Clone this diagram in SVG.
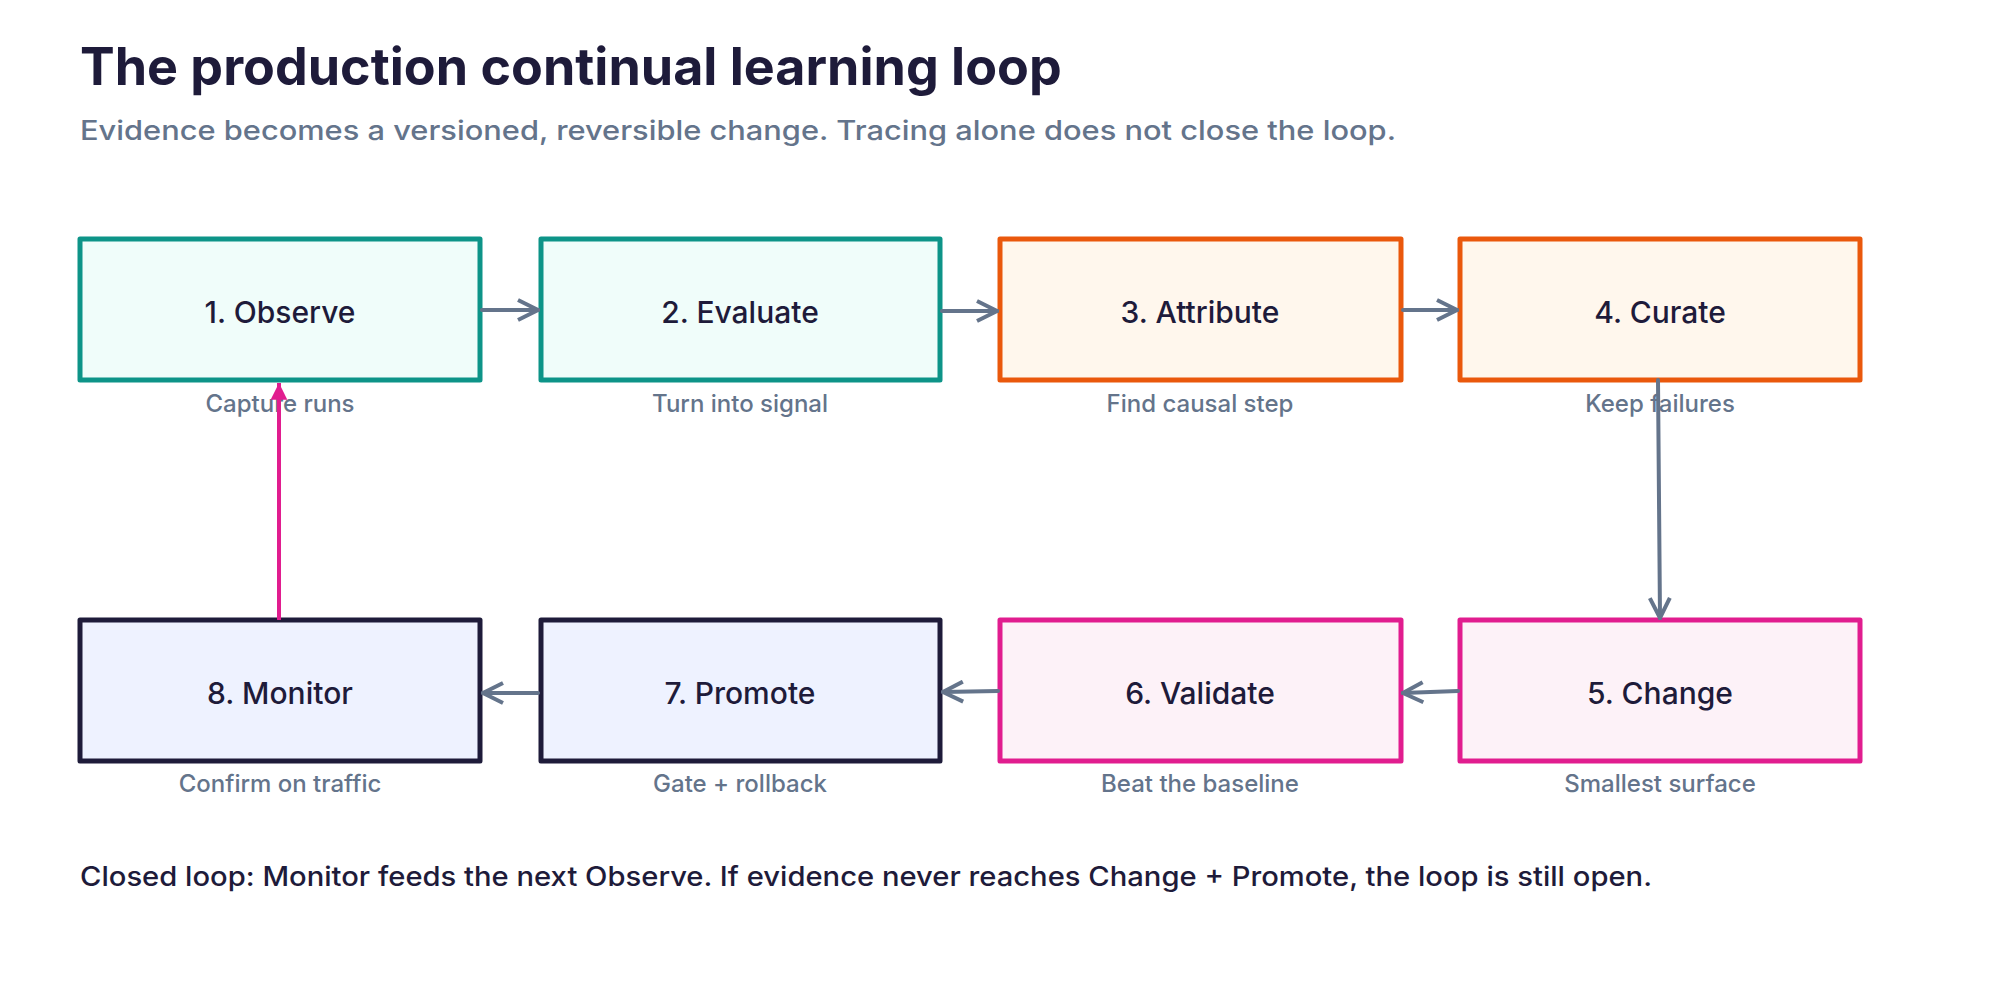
<svg xmlns="http://www.w3.org/2000/svg" width="2000" height="1000" viewBox="0 0 2000 1000">
<style>
text{font-family:Inter,"Liberation Sans",sans-serif}
.t{font-size:52px;font-weight:700;fill:#1e1b3a}
.s{font-size:27px;fill:#64748b;font-weight:500}
.l{font-size:30px;fill:#1e1b3a;text-anchor:middle;font-weight:500}
.sl{font-size:24px;fill:#64748b;text-anchor:middle;font-weight:500}
.f{font-size:27px;fill:#1e1b3a;font-weight:500}
.box{stroke-width:5;stroke-linejoin:round}
.teal{stroke:#0d9488;fill:#f0fdfa}.org{stroke:#ea580c;fill:#fff7ed}.pink{stroke:#e11d8f;fill:#fdf2f8}.navy{stroke:#1e1b3a;fill:#eef2ff}
.c{fill:none;stroke:#64748b;stroke-width:4;stroke-linecap:round}
</style>
<defs>
<marker id="ag" viewBox="0 0 12 12" refX="11" refY="6" markerWidth="6" markerHeight="6" orient="auto" markerUnits="strokeWidth"><path d="M1,1 L11,6 L1,11" fill="none" stroke="#64748b" stroke-width="2"/></marker>
<marker id="ap" viewBox="0 0 12 12" refX="11" refY="6" markerWidth="5" markerHeight="5" orient="auto" markerUnits="strokeWidth"><path d="M1,1 L11,6 L1,11 Z" fill="#e11d8f"/></marker>
</defs>
<text class="t" x="80" y="85">The production continual learning loop</text>
<text class="s" x="80" y="140" textLength="1316" lengthAdjust="spacingAndGlyphs">Evidence becomes a versioned, reversible change. Tracing alone does not close the loop.</text>
<g id="n1"><rect class="box teal" x="80" y="239" width="400" height="141"/><text class="l" x="280" y="323">1. Observe</text><text class="sl" x="280" y="412">Capture runs</text></g>
<g id="n2"><rect class="box teal" x="541" y="239" width="399" height="141"/><text class="l" x="740" y="323">2. Evaluate</text><text class="sl" x="740" y="412">Turn into signal</text></g>
<g id="n3"><rect class="box org" x="1000" y="239" width="401" height="141"/><text class="l" x="1200" y="323">3. Attribute</text><text class="sl" x="1200" y="412">Find causal step</text></g>
<g id="n4"><rect class="box org" x="1460" y="239" width="400" height="141"/><text class="l" x="1660" y="323">4. Curate</text><text class="sl" x="1660" y="412">Keep failures</text></g>
<g id="n5"><rect class="box pink" x="1460" y="620" width="400" height="141"/><text class="l" x="1660" y="704">5. Change</text><text class="sl" x="1660" y="792">Smallest surface</text></g>
<g id="n6"><rect class="box pink" x="1000" y="620" width="401" height="141"/><text class="l" x="1200" y="704">6. Validate</text><text class="sl" x="1200" y="792">Beat the baseline</text></g>
<g id="n7"><rect class="box navy" x="541" y="620" width="399" height="141"/><text class="l" x="740" y="704">7. Promote</text><text class="sl" x="740" y="792">Gate + rollback</text></g>
<g id="n8"><rect class="box navy" x="80" y="620" width="400" height="141"/><text class="l" x="280" y="704">8. Monitor</text><text class="sl" x="280" y="792">Confirm on traffic</text></g>
<g id="connectors">
<path class="c" d="M482,310 L538,310" marker-end="url(#ag)"/>
<path class="c" d="M942,311 L997,311" marker-end="url(#ag)"/>
<path class="c" d="M1403,310 L1457,310" marker-end="url(#ag)"/>
<path class="c" d="M1658,380 L1660,618" marker-end="url(#ag)"/>
<path class="c" d="M1458,691 L1403,693" marker-end="url(#ag)"/>
<path class="c" d="M998,691 L943,692" marker-end="url(#ag)"/>
<path class="c" d="M538,693 L483,693" marker-end="url(#ag)"/>
<path d="M279,620 L279,383" fill="none" stroke="#e11d8f" stroke-width="4" marker-end="url(#ap)"/>
</g>
<text class="f" x="80" y="886" textLength="1572" lengthAdjust="spacingAndGlyphs">Closed loop: Monitor feeds the next Observe. If evidence never reaches Change + Promote, the loop is still open.</text>
</svg>
